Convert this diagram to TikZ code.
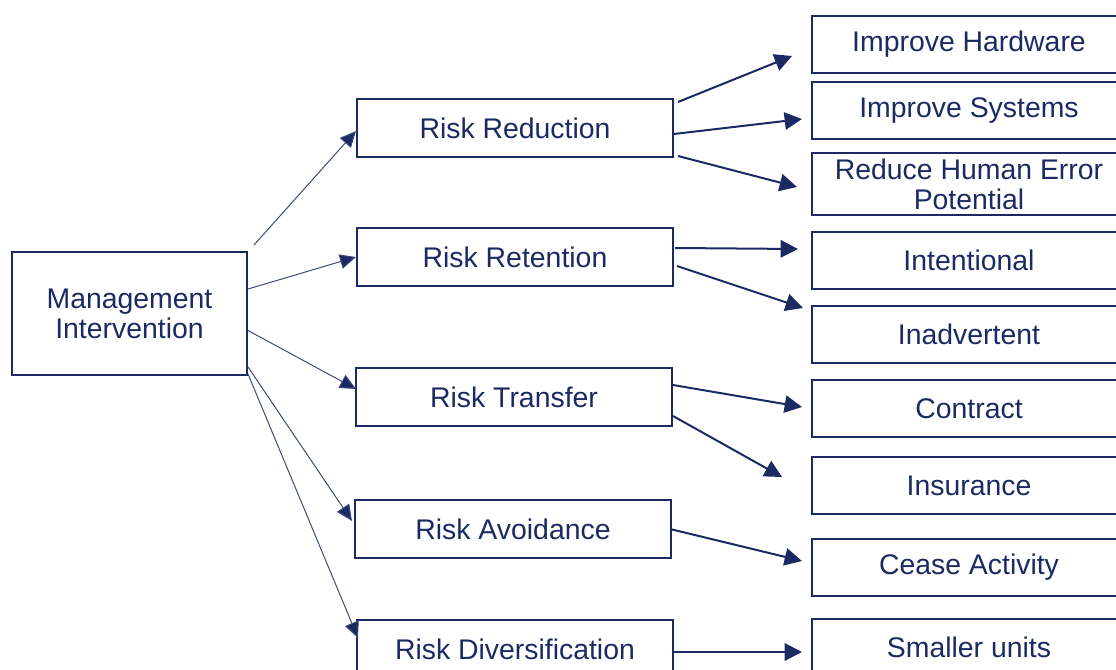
\documentclass[tikz,border=0pt]{standalone}
\usepackage{fontspec}
\setmainfont{Liberation Sans}
\usetikzlibrary{arrows.meta,calc}
\definecolor{navy}{HTML}{1B2A63}

\begin{document}
\begin{tikzpicture}[x=0.75pt, y=-0.75pt,
  box/.style = {draw=navy, line width=1.5pt, text=navy, font=\fontsize{21.3}{22.5}\selectfont, align=center, anchor=north west, inner sep=0pt},
  midbox/.style = {box, minimum width=237pt, minimum height=43.5pt},
  leafbox/.style = {box, minimum width=235.5pt, minimum height=42.75pt},
  thin/.style = {draw=navy!85, line width=0.75pt, -{Triangle[length=12pt, width=11pt, fill=navy]}},
  thick/.style = {draw=navy, line width=1.5pt, -{Triangle[length=13pt, width=13pt]}}]
        \useasboundingbox (0,0) rectangle (1116,670);
        \clip (0,0) rectangle (1116,670);
        \node[box, minimum width=176.25pt, minimum height=92.25pt] (mi) at (11,251) {Management\\Intervention};
        \node[midbox] (rred) at (356,98) {Risk Reduction};
        \node[midbox] (rret) at (356,227) {Risk Retention};
        \node[midbox] (rtra) at (355,367) {Risk Transfer};
        \node[midbox] (ravo) at (354,499) {Risk Avoidance};
        \node[midbox] (rdiv) at (356,619) {Risk Diversification};
        \node[leafbox] (ihw) at (811,15) {Improve Hardware};
        \node[leafbox] (isy) at (811,81) {Improve Systems};
        \node[leafbox, minimum height=46.5pt] (rhe) at (811,152) {Reduce Human Error\\Potential};
        \node[leafbox] (int) at (811,231) {Intentional};
        \node[leafbox] (ina) at (811,305) {Inadvertent};
        \node[leafbox] (con) at (811,379) {Contract};
        \node[leafbox] (ins) at (811,456) {Insurance};
        \node[leafbox] (cea) at (811,538) {Cease Activity};
        \node[leafbox] (sma) at (811,618) {Smaller units};
        % management to the five strategies
        \draw[thin] ($(mi.north east)+(6,-6)$) -- ($(rred.west)+(0,3)$);
        \draw[thin] ($(mi.north east)+(0,38)$) -- (rret.west);
        \draw[thin] ($(mi.east)+(0,17)$) -- ($(rtra.west)+(1,-8)$);
        \draw[thin] ($(mi.south east)+(0,-9)$) -- ($(ravo.west)+(-2,-8)$);
        \draw[thin] ($(mi.south east)+(0,-2)$) -- ($(rdiv.west)+(2,-11)$);
        % strategies to measures
        \draw[thick] ($(rred.east)+(4,-26)$) -- ($(ihw.west)+(-19,11.5)$);
        \draw[thick] ($(rred.east)+(0,6)$) -- ($(isy.west)+(-9,8.5)$);
        \draw[thick] ($(rred.east)+(4,28)$) -- ($(rhe.west)+(-14,3)$);
        \draw[thick] ($(rret.east)+(1,-9)$) -- ($(int.west)+(-13,-11.5)$);
        \draw[thick] ($(rret.east)+(3,9)$) -- ($(ina.west)+(-8,-26.5)$);
        \draw[thick] ($(rtra.east)+(0,-12)$) -- ($(con.west)+(-9,-1.5)$);
        \draw[thick] ($(rtra.east)+(0,19)$) -- ($(ins.west)+(-29,-8.5)$);
        \draw[thick] ($(ravo.east)+(-2,0)$) -- ($(cea.west)+(-9,-6.5)$);
        \draw[thick] ($(rdiv.east)+(-2,3)$) -- ($(sma.west)+(-9,4.5)$);
\end{tikzpicture}
\end{document}
